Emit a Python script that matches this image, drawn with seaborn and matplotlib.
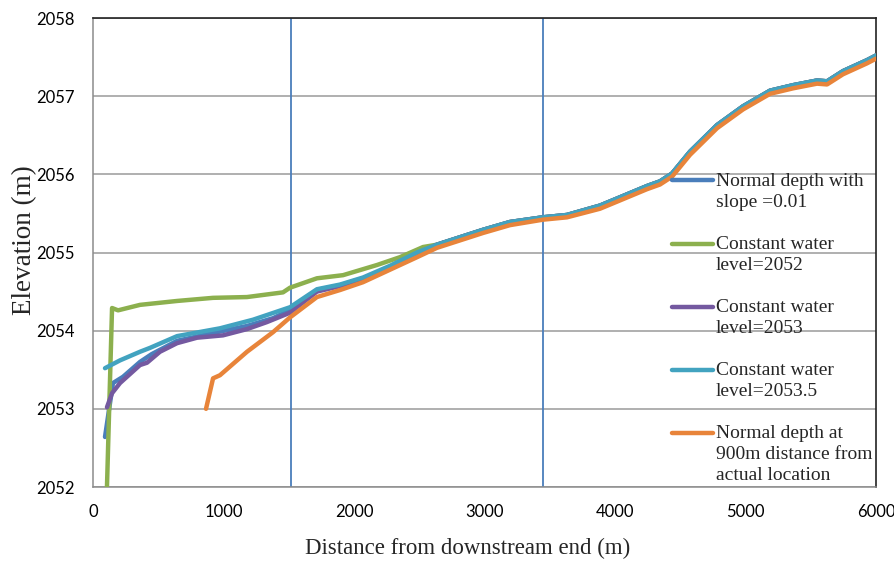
import matplotlib
matplotlib.use("Agg")
import matplotlib.pyplot as plt
import seaborn as sns
import pandas as pd
from matplotlib.lines import Line2D
from matplotlib.legend_handler import HandlerLine2D

# ---- data ----
tail_x = [2636, 2989, 3195, 3448, 3632, 3885, 4015, 4245, 4345, 4437, 4575,
          4782, 4981, 5188, 5364, 5548, 5625, 5747, 5931, 6000]
tail_upper_y = [2055.10, 2055.29, 2055.39, 2055.45, 2055.48, 2055.60, 2055.69,
                2055.85, 2055.91, 2056.01, 2056.29, 2056.63, 2056.87, 2057.07,
                2057.14, 2057.20, 2057.19, 2057.32, 2057.46, 2057.52]
tail_orange_y = [2055.06, 2055.25, 2055.35, 2055.42, 2055.45, 2055.56, 2055.65,
                 2055.81, 2055.87, 2055.97, 2056.25, 2056.59, 2056.83, 2057.03,
                 2057.10, 2057.16, 2057.15, 2057.28, 2057.42, 2057.48]

blue_x = [92, 153, 230, 360, 450, 644, 920, 1180, 1380, 1517, 1716, 1893, 2069, 2276, 2482]
blue_y = [2052.64, 2053.33, 2053.41, 2053.60, 2053.70, 2053.87, 2053.97, 2054.06,
          2054.16, 2054.27, 2054.52, 2054.58, 2054.67, 2054.81, 2054.99]

green_x = [107, 146, 192, 360, 644, 920, 1180, 1456, 1510, 1716, 1916, 2176, 2352, 2529]
green_y = [2052.0, 2054.29, 2054.26, 2054.33, 2054.38, 2054.42, 2054.43, 2054.49,
           2054.55, 2054.67, 2054.71, 2054.84, 2054.94, 2055.07]

purple_x = [107, 146, 207, 360, 414, 513, 644, 797, 996, 1180, 1333, 1510, 1716,
            1893, 2069, 2276, 2482]
purple_y = [2053.02, 2053.20, 2053.33, 2053.56, 2053.59, 2053.73, 2053.84, 2053.91,
            2053.94, 2054.02, 2054.11, 2054.23, 2054.50, 2054.57, 2054.66, 2054.81, 2054.98]

cyan_x = [92, 207, 360, 437, 644, 973, 1226, 1510, 1716, 1893, 2069, 2276, 2482]
cyan_y = [2053.52, 2053.62, 2053.73, 2053.78, 2053.93, 2054.03, 2054.14, 2054.30,
          2054.53, 2054.59, 2054.68, 2054.83, 2055.00]

orange_x = [866, 920, 973, 1180, 1379, 1510, 1716, 1893, 2069, 2276, 2483]
orange_y = [2053.00, 2053.39, 2053.43, 2053.73, 2053.98, 2054.17, 2054.43, 2054.52,
            2054.62, 2054.78, 2054.94]

series_names = ["Normal depth with\nslope =0.01",
                "Constant water\nlevel=2052",
                "Constant water\nlevel=2053",
                "Constant water\nlevel=2053.5",
                "Normal depth at\n900m distance from\nactual location"]
series_colors = ["#4A7EBB", "#8CB04E", "#7459A0", "#42A3C0", "#E8843A"]

vlines_x = [1517, 3448]
x_ticks = [0, 1000, 2000, 3000, 4000, 5000, 6000]
y_ticks = [2052, 2053, 2054, 2055, 2056, 2057, 2058]

heads = [(blue_x, blue_y), (green_x, green_y), (purple_x, purple_y),
         (cyan_x, cyan_y), (orange_x, orange_y)]
frames = []
for i, (name, (hx, hy)) in enumerate(zip(series_names, heads)):
    ty = tail_orange_y if i == 4 else tail_upper_y
    frames.append(pd.DataFrame({"x": hx + tail_x, "y": hy + ty, "series": name}))
df = pd.concat(frames, ignore_index=True)

# ---- plotting ----
sns.set_theme(style="white")
plt.rcParams["font.family"] = ["Liberation Serif", "DejaVu Serif"]

fig = plt.figure(figsize=(8.95, 5.62), dpi=100)
ax = fig.add_axes([93 / 895, 75 / 562, 783 / 895, 469 / 562])

for name, col in zip(series_names, series_colors):
    sub = df[df["series"] == name]
    sns.lineplot(data=sub, x="x", y="y", sort=False, estimator=None, ax=ax,
                 color=col, linewidth=3.2, legend=False, zorder=3)

for vx in vlines_x:
    ax.axvline(vx, color="#4A7EBB", linewidth=1.3, zorder=2)

ax.set_xlim(0, 6000)
ax.set_ylim(2052, 2058)
ax.set_xticks(x_ticks)
ax.set_yticks(y_ticks)
tick_font = dict(family=["Lato", "DejaVu Sans"], size=12)
ax.set_xticklabels([str(t) for t in x_ticks], **tick_font)
ax.set_yticklabels([str(t) for t in y_ticks], **tick_font)
ax.grid(axis="y", color="#9a9a9a", linewidth=1.1)
ax.grid(axis="x", visible=False)
ax.set_axisbelow(True)
ax.tick_params(axis="y", direction="out", length=5, width=1, color="#8c8c8c",
               labelcolor="black", pad=8)
ax.tick_params(axis="x", direction="out", length=4.5, width=1, color="#8c8c8c",
               labelcolor="black", pad=8)
for s in ["left", "bottom"]:
    ax.spines[s].set_color("#8c8c8c")
    ax.spines[s].set_linewidth(1.1)
for s in ["right", "top"]:
    ax.spines[s].set_color("#222222")
    ax.spines[s].set_linewidth(1.2)

ax.set_xlabel("Distance from downstream end (m)", fontsize=16.5, va="center")
ax.xaxis.set_label_coords(0.478, -0.13)
ax.set_ylabel("Elevation (m)", fontsize=19.5, va="center")
ax.yaxis.set_label_coords(-0.087, 0.527)

# legend: handle aligned with first text line
LEG_FS = 14
LINE_SPACING = 1.3
LINE_PITCH = 15.8  # points between text lines


class FirstLineHandler(HandlerLine2D):
    def __init__(self, nlines, **kw):
        super().__init__(**kw)
        self.nlines = nlines

    def create_artists(self, legend, orig_handle, xdescent, ydescent, width,
                       height, fontsize, trans):
        shift = (self.nlines - 1) / 2 * LINE_PITCH
        return super().create_artists(legend, orig_handle, xdescent,
                                      ydescent - 2 * shift, width, height,
                                      fontsize, trans)


handles = [Line2D([0], [0], color=c, linewidth=3.2) for c in series_colors]
hmap = {h: FirstLineHandler(n.count("\n") + 1) for h, n in zip(handles, series_names)}
leg = ax.legend(handles, series_names, loc="upper left",
                bbox_to_anchor=(0.7395, 0.670), frameon=False, fontsize=LEG_FS,
                handlelength=2.1, handletextpad=0.15, labelspacing=1.3,
                borderpad=0, borderaxespad=0, handler_map=hmap)
for t in leg.get_texts():
    t.set_linespacing(LINE_SPACING)

fig.savefig("out.png", dpi=100)
